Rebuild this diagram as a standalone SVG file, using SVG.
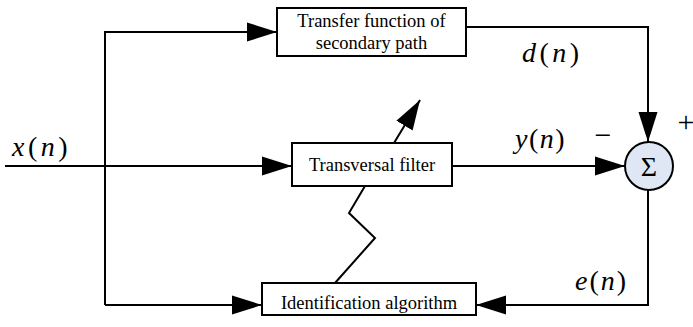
<svg xmlns="http://www.w3.org/2000/svg" width="693" height="327" viewBox="0 0 693 327">
<style>
.box{fill:#fff;stroke:#000;stroke-width:2}
.ln{fill:none;stroke:#000;stroke-width:2}
.t{font-family:"Liberation Serif","Times New Roman",serif;font-size:18.5px;fill:#000;text-anchor:middle}
.m{font-family:"Liberation Serif","Times New Roman",serif;font-size:28px;fill:#000}
.s{font-family:"Liberation Serif","Times New Roman",serif;text-anchor:middle;fill:#000}
.i{font-style:italic}
</style>
<defs>
<marker id="ah" markerUnits="userSpaceOnUse" markerWidth="30" markerHeight="20" refX="30" refY="9.5" orient="auto" viewBox="0 0 30 19">
<path d="M0,0 L30,9.5 L0,19 z" fill="#000"/>
</marker>
</defs>
<g id="connectors">
<path class="ln" d="M5,166 H292" marker-end="url(#ah)"/>
<path class="ln" d="M105,305 V32 H277" marker-end="url(#ah)"/>
<path class="ln" d="M105,305 H262" marker-end="url(#ah)"/>
<path class="ln" d="M466,27 H648 V142" marker-end="url(#ah)"/>
<path class="ln" d="M452,166 H625" marker-end="url(#ah)"/>
<path class="ln" d="M648,190 V305 H476" marker-end="url(#ah)"/>
<polyline class="ln" points="335,283 375,238 349,213 365,186"/>
<path class="ln" d="M394,143 L420,100" marker-end="url(#ah)"/>
</g>
<g id="secondary">
<rect class="box" x="277" y="8" width="189" height="48"/>
<text class="t" x="371.5" y="27">Transfer function of</text>
<text class="t" x="371.5" y="49">secondary path</text>
</g>
<g id="filter">
<rect class="box" x="292" y="143" width="160" height="43"/>
<text class="t" x="372" y="171">Transversal filter</text>
</g>
<g id="ident">
<rect class="box" x="262" y="283" width="214" height="32"/>
<text class="t" x="369" y="309">Identification algorithm</text>
</g>
<g id="sum">
<circle cx="649" cy="166" r="24" fill="#dfe7f5" stroke="#000" stroke-width="2"/>
<text class="s" x="649" y="176" font-size="28" fill="#222">Σ</text>
<text class="s" x="686" y="132" font-size="30">+</text>
<text class="s" x="603" y="145" font-size="30">−</text>
</g>
<g id="labels">
<text class="m" x="12" y="156" letter-spacing="3.5"><tspan class="i">x</tspan>(<tspan class="i">n</tspan>)</text>
<text class="m" x="522" y="62" letter-spacing="3.5"><tspan class="i">d</tspan>(<tspan class="i">n</tspan>)</text>
<text class="m" x="515" y="148" letter-spacing="1.5"><tspan class="i">y</tspan>(<tspan class="i">n</tspan>)</text>
<text class="m" x="575" y="290" letter-spacing="2"><tspan class="i">e</tspan>(<tspan class="i">n</tspan>)</text>
</g>
</svg>
